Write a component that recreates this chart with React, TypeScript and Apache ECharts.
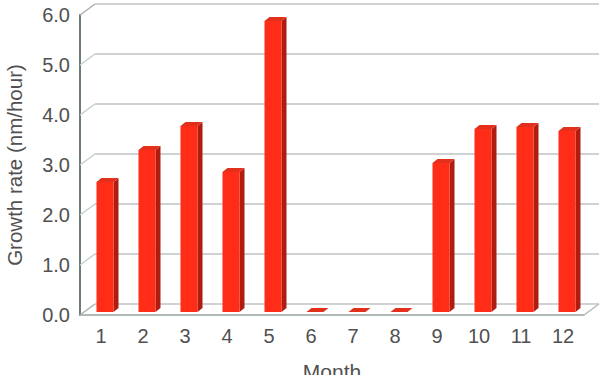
import React, { useEffect, useRef } from "react";
import * as echarts from "echarts";

const months = ["1", "2", "3", "4", "5", "6", "7", "8", "9", "10", "11", "12"];
const growthRates = [2.6, 3.24, 3.72, 2.8, 5.82, 0, 0, 0, 2.98, 3.66, 3.7, 3.62];
const yTicks = [0, 1, 2, 3, 4, 5, 6];

const WALL_DX = 15;
const WALL_DY = -11;
const BAR_OFF_X = 4;
const BAR_OFF_Y = -3;
const BAR_DX = 5;
const BAR_DY = -4;
const BAR_W = 17;

export default function App() {
  const ref = useRef<HTMLDivElement>(null);
  useEffect(() => {
    if (!ref.current) return;
    const chart = echarts.init(ref.current, null, { renderer: "svg", width: 608, height: 375 });
    const font = "'Liberation Sans', Arial, Helvetica, sans-serif";
    chart.setOption({
      animation: false,
      backgroundColor: "#ffffff",
      textStyle: { fontFamily: font },
      grid: {
        left: 80,
        right: 24,
        top: 15,
        bottom: 60,
        containLabel: false,
        outerBoundsMode: "none",
      },
      xAxis: {
        type: "category",
        data: months,
        name: "Month",
        nameLocation: "middle",
        nameGap: 46,
        nameTextStyle: { fontSize: 21, color: "#505050", fontFamily: font },
        axisLine: { show: true, lineStyle: { color: "#98a2a2", width: 1.5 } },
        axisTick: { show: false },
        axisLabel: { fontSize: 20, color: "#505050", margin: 11, fontFamily: font },
        splitLine: { show: false },
      },
      yAxis: {
        type: "value",
        min: 0,
        max: 6,
        interval: 1,
        name: "Growth rate (nm/hour)",
        nameLocation: "middle",
        nameGap: 55,
        nameTextStyle: { fontSize: 20.5, color: "#505050", fontFamily: font },
        axisLine: { show: true, lineStyle: { color: "#6c7a7a", width: 2 } },
        axisTick: { show: false },
        axisLabel: {
          fontSize: 20,
          color: "#505050",
          margin: 10,
          fontFamily: font,
          formatter: (v: number) => v.toFixed(1),
        },
        splitLine: { show: false },
      },
      series: [
        {
          type: "custom",
          name: "walls",
          z: 1,
          clip: false,
          silent: true,
          data: yTicks.map((v) => [0, v]),
          renderItem: (params: any, api: any) => {
            const v = api.value(1);
            const cs = params.coordSys;
            const y = api.coord([0, v])[1];
            const x0 = cs.x;
            const x1 = cs.x + cs.width;
            const children: any[] = [
              {
                type: "line",
                shape: { x1: x0, y1: y, x2: x0 + WALL_DX, y2: y + WALL_DY },
                style: { stroke: v === 0 || v === 6 ? "#a8b0b0" : "#c9cdcd", lineWidth: 1.5 },
              },
              {
                type: "line",
                shape: { x1: x0 + WALL_DX, y1: y + WALL_DY, x2: x1 + WALL_DX, y2: y + WALL_DY },
                style: { stroke: "#cfd2d2", lineWidth: 2 },
              },
            ];
            if (v === 0) {
              children.push({
                type: "line",
                shape: { x1: x1, y1: y, x2: x1 + WALL_DX, y2: y + WALL_DY },
                style: { stroke: "#b4bbbb", lineWidth: 1.5 },
              });
            }
            return { type: "group", children };
          },
        },
        {
          type: "custom",
          name: "Growth rate",
          z: 3,
          clip: false,
          data: growthRates.map((v, i) => [i, v]),
          renderItem: (params: any, api: any) => {
            const i = api.value(0);
            const v = api.value(1);
            const base = api.coord([i, 0]);
            const top = api.coord([i, v]);
            const cx = base[0] + BAR_OFF_X;
            const xl = cx - BAR_W / 2;
            const xr = cx + BAR_W / 2;
            const yb = base[1] + BAR_OFF_Y;
            const yt = top[1] + BAR_OFF_Y;
            return {
              type: "group",
              children: [
                {
                  type: "polygon",
                  shape: {
                    points: [
                      [xr, yt],
                      [xr + BAR_DX, yt + BAR_DY],
                      [xr + BAR_DX, yb + BAR_DY],
                      [xr, yb],
                    ],
                  },
                  style: { fill: "#b01c10" },
                },
                {
                  type: "rect",
                  shape: { x: xl, y: yt, width: BAR_W, height: Math.max(yb - yt, 0) },
                  style: { fill: "#ff2c17" },
                },
                {
                  type: "polygon",
                  shape: {
                    points: [
                      [xl, yt],
                      [xl + BAR_DX, yt + BAR_DY],
                      [xr + BAR_DX, yt + BAR_DY],
                      [xr, yt],
                    ],
                  },
                  style: { fill: "#e2301d" },
                },
              ],
            };
          },
        },
      ],
    });
    return () => chart.dispose();
  }, []);
  return (
    <div
      ref={ref}
      style={{ position: "fixed", left: 0, top: 0, width: 608, height: 375, background: "#fff" }}
    />
  );
}
